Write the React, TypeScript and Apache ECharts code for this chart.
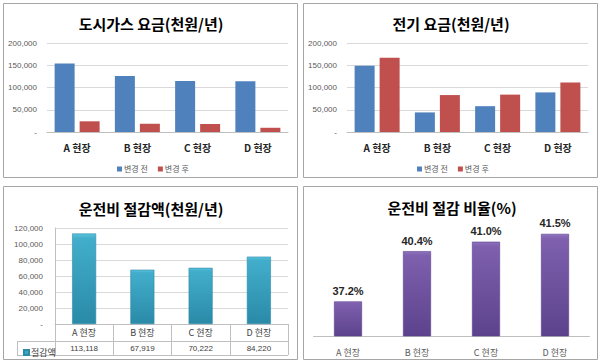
import React, { useEffect, useRef } from "react";
import * as echarts from "echarts";

const sites = ["A 현장", "B 현장", "C 현장", "D 현장"];
const seriesNames = ["변경 전", "변경 후"];
const gasBefore = [154000, 126000, 114500, 114000];
const gasAfter = [24000, 18500, 18000, 9500];
const elecBefore = [149000, 44000, 58000, 89000];
const elecAfter = [167000, 83000, 84000, 111000];
const savings = [113118, 67919, 70222, 84220];
const savingRatio = [37.2, 40.4, 41.0, 41.5];
const titles = ["도시가스 요금(천원/년)", "전기 요금(천원/년)", "운전비 절감액(천원/년)", "운전비 절감 비율(%)"];
const savingName = "절감액";

const KR = '"Noto Sans CJK KR", "Liberation Sans", sans-serif';
const NUM = '"Liberation Sans", "Noto Sans CJK KR", sans-serif';

const fmt = (v: number) => (v === 0 ? "-" : v.toLocaleString("en-US"));

export default function App() {
  const ref = useRef<HTMLDivElement>(null);
  useEffect(() => {
    if (!ref.current) return;
    const chart = echarts.init(ref.current, null, { renderer: "svg" });

    const yLabel = { fontSize: 8, color: "#595959", fontFamily: NUM };
    const split = { show: true, lineStyle: { color: "#D9D9D9", width: 1 } };
    const axisLn = { show: true, lineStyle: { color: "#BFBFBF", width: 1 } };

    const panelRect = (x: number, y: number, w: number, h: number) => ({
      type: "rect",
      shape: { x, y, width: w, height: h },
      style: { fill: "none", stroke: "#A6A6A6", lineWidth: 1 },
      silent: true,
    });
    const titleText = (x: number, y: number, text: string) => ({
      type: "text",
      x,
      y,
      style: {
        text,
        fill: "#000",
        fontSize: 15,
        fontWeight: "bold",
        fontFamily: KR,
        align: "center",
        verticalAlign: "middle",
      },
    });
    const hline = (x1: number, x2: number, y: number) => ({
      type: "line",
      shape: { x1, y1: y, x2, y2: y },
      style: { stroke: "#BFBFBF", lineWidth: 1 },
      silent: true,
    });
    const vline = (x: number, y1: number, y2: number) => ({
      type: "line",
      shape: { x1: x, y1, x2: x, y2 },
      style: { stroke: "#BFBFBF", lineWidth: 1 },
      silent: true,
    });

    const catAxisBold = (gridIndex: number) => ({
      type: "category",
      gridIndex,
      data: sites,
      axisLine: axisLn,
      axisTick: { show: false },
      axisLabel: { fontSize: 10, fontWeight: "bold", color: "#262626", fontFamily: KR, margin: 10 },
    });

    const legendBase = {
      icon: "rect",
      itemWidth: 5,
      itemHeight: 5,
      itemGap: 10,
      textStyle: { fontSize: 8, color: "#595959", fontFamily: KR, padding: [0, 0, 0, -3] },
    };

    chart.setOption({
      animation: false,
      backgroundColor: "#fff",
      graphic: [
        panelRect(3.5, 3.5, 294, 174),
        panelRect(303.5, 3.5, 294, 174),
        panelRect(3.5, 186.5, 294, 173),
        panelRect(303.5, 186.5, 294, 173),
        titleText(151, 23, titles[0]),
        titleText(451, 23, titles[1]),
        titleText(151, 208, titles[2]),
        titleText(452, 207, titles[3]),
        hline(17, 288, 341.5),
        hline(17, 288, 355.5),
        vline(17.5, 341, 356),
      ],
      legend: [
        { ...legendBase, data: seriesNames, left: 112, top: 160 },
        { ...legendBase, data: seriesNames, left: 412, top: 160 },
        {
          ...legendBase,
          data: [{ name: savingName, itemStyle: { color: "#3DA8C6" } }],
          left: 18,
          top: 343,
          textStyle: { fontSize: 9, color: "#404040", fontFamily: KR, padding: [0, 0, 0, -3] },
        },
      ],
      grid: [
        { left: 47, top: 43, width: 241, height: 89 },
        { left: 347, top: 43, width: 241, height: 89 },
        { left: 55, top: 228, width: 233, height: 96 },
        { left: 313.5, top: 226, width: 276, height: 110 },
      ],
      xAxis: [
        catAxisBold(0),
        catAxisBold(1),
        {
          type: "category",
          gridIndex: 2,
          data: sites,
          axisLine: axisLn,
          axisTick: { show: true, length: 31, lineStyle: { color: "#BFBFBF" } },
          axisLabel: { fontSize: 9, color: "#404040", fontFamily: KR, margin: 4 },
        },
        {
          type: "category",
          gridIndex: 2,
          position: "bottom",
          offset: 17,
          data: sites,
          axisLine: { show: false },
          axisTick: { show: false },
          axisLabel: {
            fontSize: 8,
            color: "#404040",
            fontFamily: NUM,
            margin: 3,
            formatter: (_v: string, i: number) => savings[i].toLocaleString("en-US"),
          },
        },
        {
          type: "category",
          gridIndex: 3,
          data: sites,
          axisLine: axisLn,
          axisTick: { show: false },
          axisLabel: { fontSize: 9, color: "#595959", fontFamily: KR, margin: 12 },
        },
      ],
      yAxis: [
        {
          type: "value",
          gridIndex: 0,
          min: 0,
          max: 200000,
          interval: 50000,
          axisLine: { show: false },
          axisTick: { show: false },
          splitLine: split,
          axisLabel: { ...yLabel, margin: 10, formatter: fmt },
        },
        {
          type: "value",
          gridIndex: 1,
          min: 0,
          max: 200000,
          interval: 50000,
          axisLine: { show: false },
          axisTick: { show: false },
          splitLine: split,
          axisLabel: { ...yLabel, margin: 10, formatter: fmt },
        },
        {
          type: "value",
          gridIndex: 2,
          min: 0,
          max: 120000,
          interval: 20000,
          axisLine: axisLn,
          axisTick: { show: false },
          splitLine: split,
          axisLabel: { ...yLabel, margin: 12, formatter: fmt },
        },
        {
          type: "value",
          gridIndex: 3,
          min: 35,
          max: 42,
          show: false,
        },
      ],
      series: [
        {
          name: seriesNames[0],
          type: "bar",
          xAxisIndex: 0,
          yAxisIndex: 0,
          data: gasBefore,
          barWidth: 20,
          barGap: "25%",
          itemStyle: { color: "#4F81BD" },
        },
        {
          name: seriesNames[1],
          type: "bar",
          xAxisIndex: 0,
          yAxisIndex: 0,
          data: gasAfter,
          barWidth: 20,
          barGap: "25%",
          itemStyle: { color: "#C0504D" },
        },
        {
          name: seriesNames[0],
          type: "bar",
          xAxisIndex: 1,
          yAxisIndex: 1,
          data: elecBefore,
          barWidth: 20,
          barGap: "25%",
          itemStyle: { color: "#4F81BD" },
        },
        {
          name: seriesNames[1],
          type: "bar",
          xAxisIndex: 1,
          yAxisIndex: 1,
          data: elecAfter,
          barWidth: 20,
          barGap: "25%",
          itemStyle: { color: "#C0504D" },
        },
        {
          name: savingName,
          type: "bar",
          xAxisIndex: 2,
          yAxisIndex: 2,
          data: savings,
          barWidth: 24,
          itemStyle: {
            color: new echarts.graphic.LinearGradient(0, 0, 0, 1, [
              { offset: 0, color: "#5CC3DD" },
              { offset: 0.05, color: "#42AECB" },
              { offset: 1, color: "#2A8AA8" },
            ]),
            borderColor: "#2C8BA7",
            borderWidth: 0.6,
          },
        },
        {
          name: "절감 비율",
          type: "bar",
          xAxisIndex: 4,
          yAxisIndex: 3,
          data: savingRatio,
          barWidth: 28,
          itemStyle: {
            color: new echarts.graphic.LinearGradient(0, 0, 0, 1, [
              { offset: 0, color: "#8E72BE" },
              { offset: 0.05, color: "#7E60AE" },
              { offset: 1, color: "#5C428C" },
            ]),
            borderColor: "#5A3F88",
            borderWidth: 0.6,
          },
          label: {
            show: true,
            position: "top",
            distance: 5,
            formatter: (p: any) => p.value.toFixed(1) + "%",
            fontSize: 11,
            fontWeight: "bold",
            color: "#262626",
            fontFamily: NUM,
          },
        },
      ],
    });
    return () => chart.dispose();
  }, []);
  return (
    <div
      ref={ref}
      style={{ position: "absolute", left: 0, top: 0, width: 600, height: 362, background: "#fff" }}
    />
  );
}
